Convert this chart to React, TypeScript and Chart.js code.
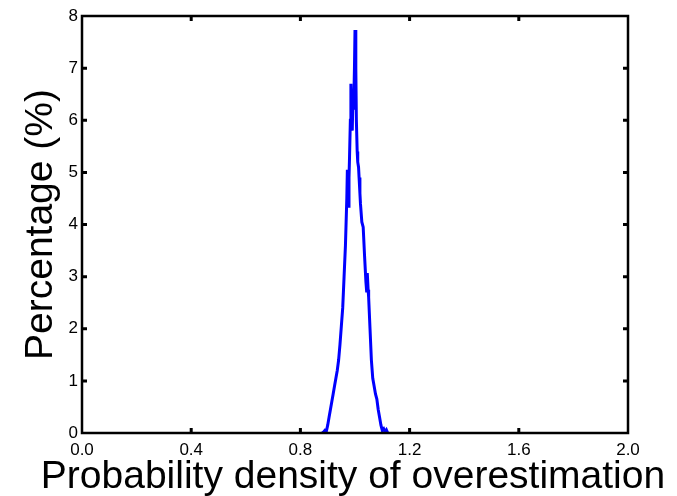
import { useEffect, useRef } from "react";
import { Chart, registerables } from "chart.js";

Chart.register(...registerables);

const overestimation = [
  0.88, 0.885, 0.89, 0.895, 0.9, 0.905, 0.91, 0.915, 0.92, 0.925, 0.93, 0.935, 0.94, 0.945,
  0.95, 0.955, 0.96, 0.965, 0.97, 0.972, 0.975, 0.978, 0.98, 0.983, 0.985, 0.988, 0.99,
  0.993, 0.995, 0.998, 1.0, 1.003, 1.005, 1.008, 1.01, 1.013, 1.015, 1.018, 1.02, 1.025,
  1.03, 1.035, 1.04, 1.043, 1.045, 1.048, 1.05, 1.055, 1.06, 1.065, 1.07, 1.075, 1.08,
  1.085, 1.09, 1.095, 1.1, 1.105, 1.11, 1.115, 1.12,
];
const percentage = [
  0, 0.02, 0.05, 0.03, 0.15, 0.3, 0.45, 0.6, 0.75, 0.9, 1.05, 1.2, 1.4, 1.7,
  2.05, 2.4, 3.0, 3.6, 4.5, 5.05, 4.35, 4.9, 5.3, 6.0, 6.7, 6.0, 5.8,
  6.6, 6.2, 7.0, 7.73, 7.0, 6.0, 5.4, 5.2, 5.1, 4.9, 4.6, 4.4, 4.05,
  3.95, 3.4, 2.9, 2.7, 3.07, 2.75, 2.6, 2.0, 1.4, 1.05, 0.9, 0.75, 0.65,
  0.45, 0.3, 0.15, 0.05, 0.08, 0.02, 0.06, 0,
];
const xTickValues = [0, 0.4, 0.8, 1.2, 1.6, 2.0];
const yTickValues = [0, 1, 2, 3, 4, 5, 6, 7, 8];
const xTitle = "Probability density of overestimation";
const yTitle = "Percentage (%)";

const FONT = "'Liberation Sans', Arial, Helvetica, sans-serif";

const boxPlugin = {
  id: "matlabBox",
  afterDatasetsDraw(chart: any) {
    const { ctx, chartArea } = chart;
    const { left, right, top, bottom } = chartArea;
    const xs = chart.scales.x;
    const ys = chart.scales.y;
    ctx.save();
    ctx.strokeStyle = "#000";
    ctx.lineWidth = 2.5;
    ctx.strokeRect(left, top, right - left, bottom - top);
    ctx.lineWidth = 3;
    const len = 5;
    xTickValues.forEach((v) => {
      const px = xs.getPixelForValue(v);
      if (v === xs.min || v === xs.max) return;
      ctx.beginPath();
      ctx.moveTo(px, bottom);
      ctx.lineTo(px, bottom - len);
      ctx.moveTo(px, top);
      ctx.lineTo(px, top + len);
      ctx.stroke();
    });
    yTickValues.forEach((v) => {
      const py = ys.getPixelForValue(v);
      if (v === ys.min || v === ys.max) return;
      ctx.beginPath();
      ctx.moveTo(left, py);
      ctx.lineTo(left + len, py);
      ctx.moveTo(right, py);
      ctx.lineTo(right - len, py);
      ctx.stroke();
    });
    // x-axis title (drawn without Chart.js' maxWidth squeeze)
    ctx.fillStyle = "#000";
    ctx.font = `39px ${FONT}`;
    ctx.textAlign = "center";
    ctx.textBaseline = "alphabetic";
    ctx.fillText(xTitle, (left + right) / 2 - 2, bottom + 55);
    ctx.restore();
  },
};

export default function App() {
  const ref = useRef<HTMLCanvasElement | null>(null);

  useEffect(() => {
    if (!ref.current) return;
    const chart = new Chart(ref.current, {
      type: "line",
      data: {
        datasets: [
          {
            data: overestimation.map((x, i) => ({ x, y: percentage[i] })),
            borderColor: "#0000ff",
            borderWidth: 3,
            pointRadius: 0,
            fill: false,
            tension: 0,
          },
        ],
      },
      options: {
        animation: false,
        responsive: false,
        maintainAspectRatio: false,
        layout: { padding: { top: 16, right: 49, bottom: 0, left: 0 } },
        plugins: {
          legend: { display: false },
          tooltip: { enabled: false },
        },
        scales: {
          x: {
            type: "linear",
            min: 0,
            max: 2,
            afterBuildTicks: (s: any) => {
              s.ticks = xTickValues.map((value) => ({ value }));
            },
            afterFit: (s: any) => {
              s.height = 63;
            },
            grid: { display: false, drawTicks: false },
            border: { display: false },
            ticks: {
              color: "#000",
              padding: 7,
              maxRotation: 0,
              font: { family: FONT, size: 17 },
              callback: (v: any) => Number(v).toFixed(1),
            },
            title: { display: false },
          },
          y: {
            type: "linear",
            min: 0,
            max: 8,
            afterBuildTicks: (s: any) => {
              s.ticks = yTickValues.map((value) => ({ value }));
            },
            afterFit: (s: any) => {
              s.width = 82;
            },
            grid: { display: false, drawTicks: false },
            border: { display: false },
            ticks: {
              color: "#000",
              padding: 4,
              font: { family: FONT, size: 17 },
              callback: (v: any) => String(v),
            },
            title: {
              display: true,
              text: yTitle,
              color: "#000",
              font: { family: FONT, size: 39, lineHeight: 1 },
              padding: { top: 22, bottom: 0 },
            },
          },
        },
      },
      plugins: [boxPlugin],
    });
    return () => chart.destroy();
  }, []);

  return (
    <div style={{ position: "absolute", left: 0, top: 0, width: 677, height: 496, background: "#fff" }}>
      <canvas ref={ref} width={677} height={496} style={{ width: 677, height: 496 }} />
    </div>
  );
}
